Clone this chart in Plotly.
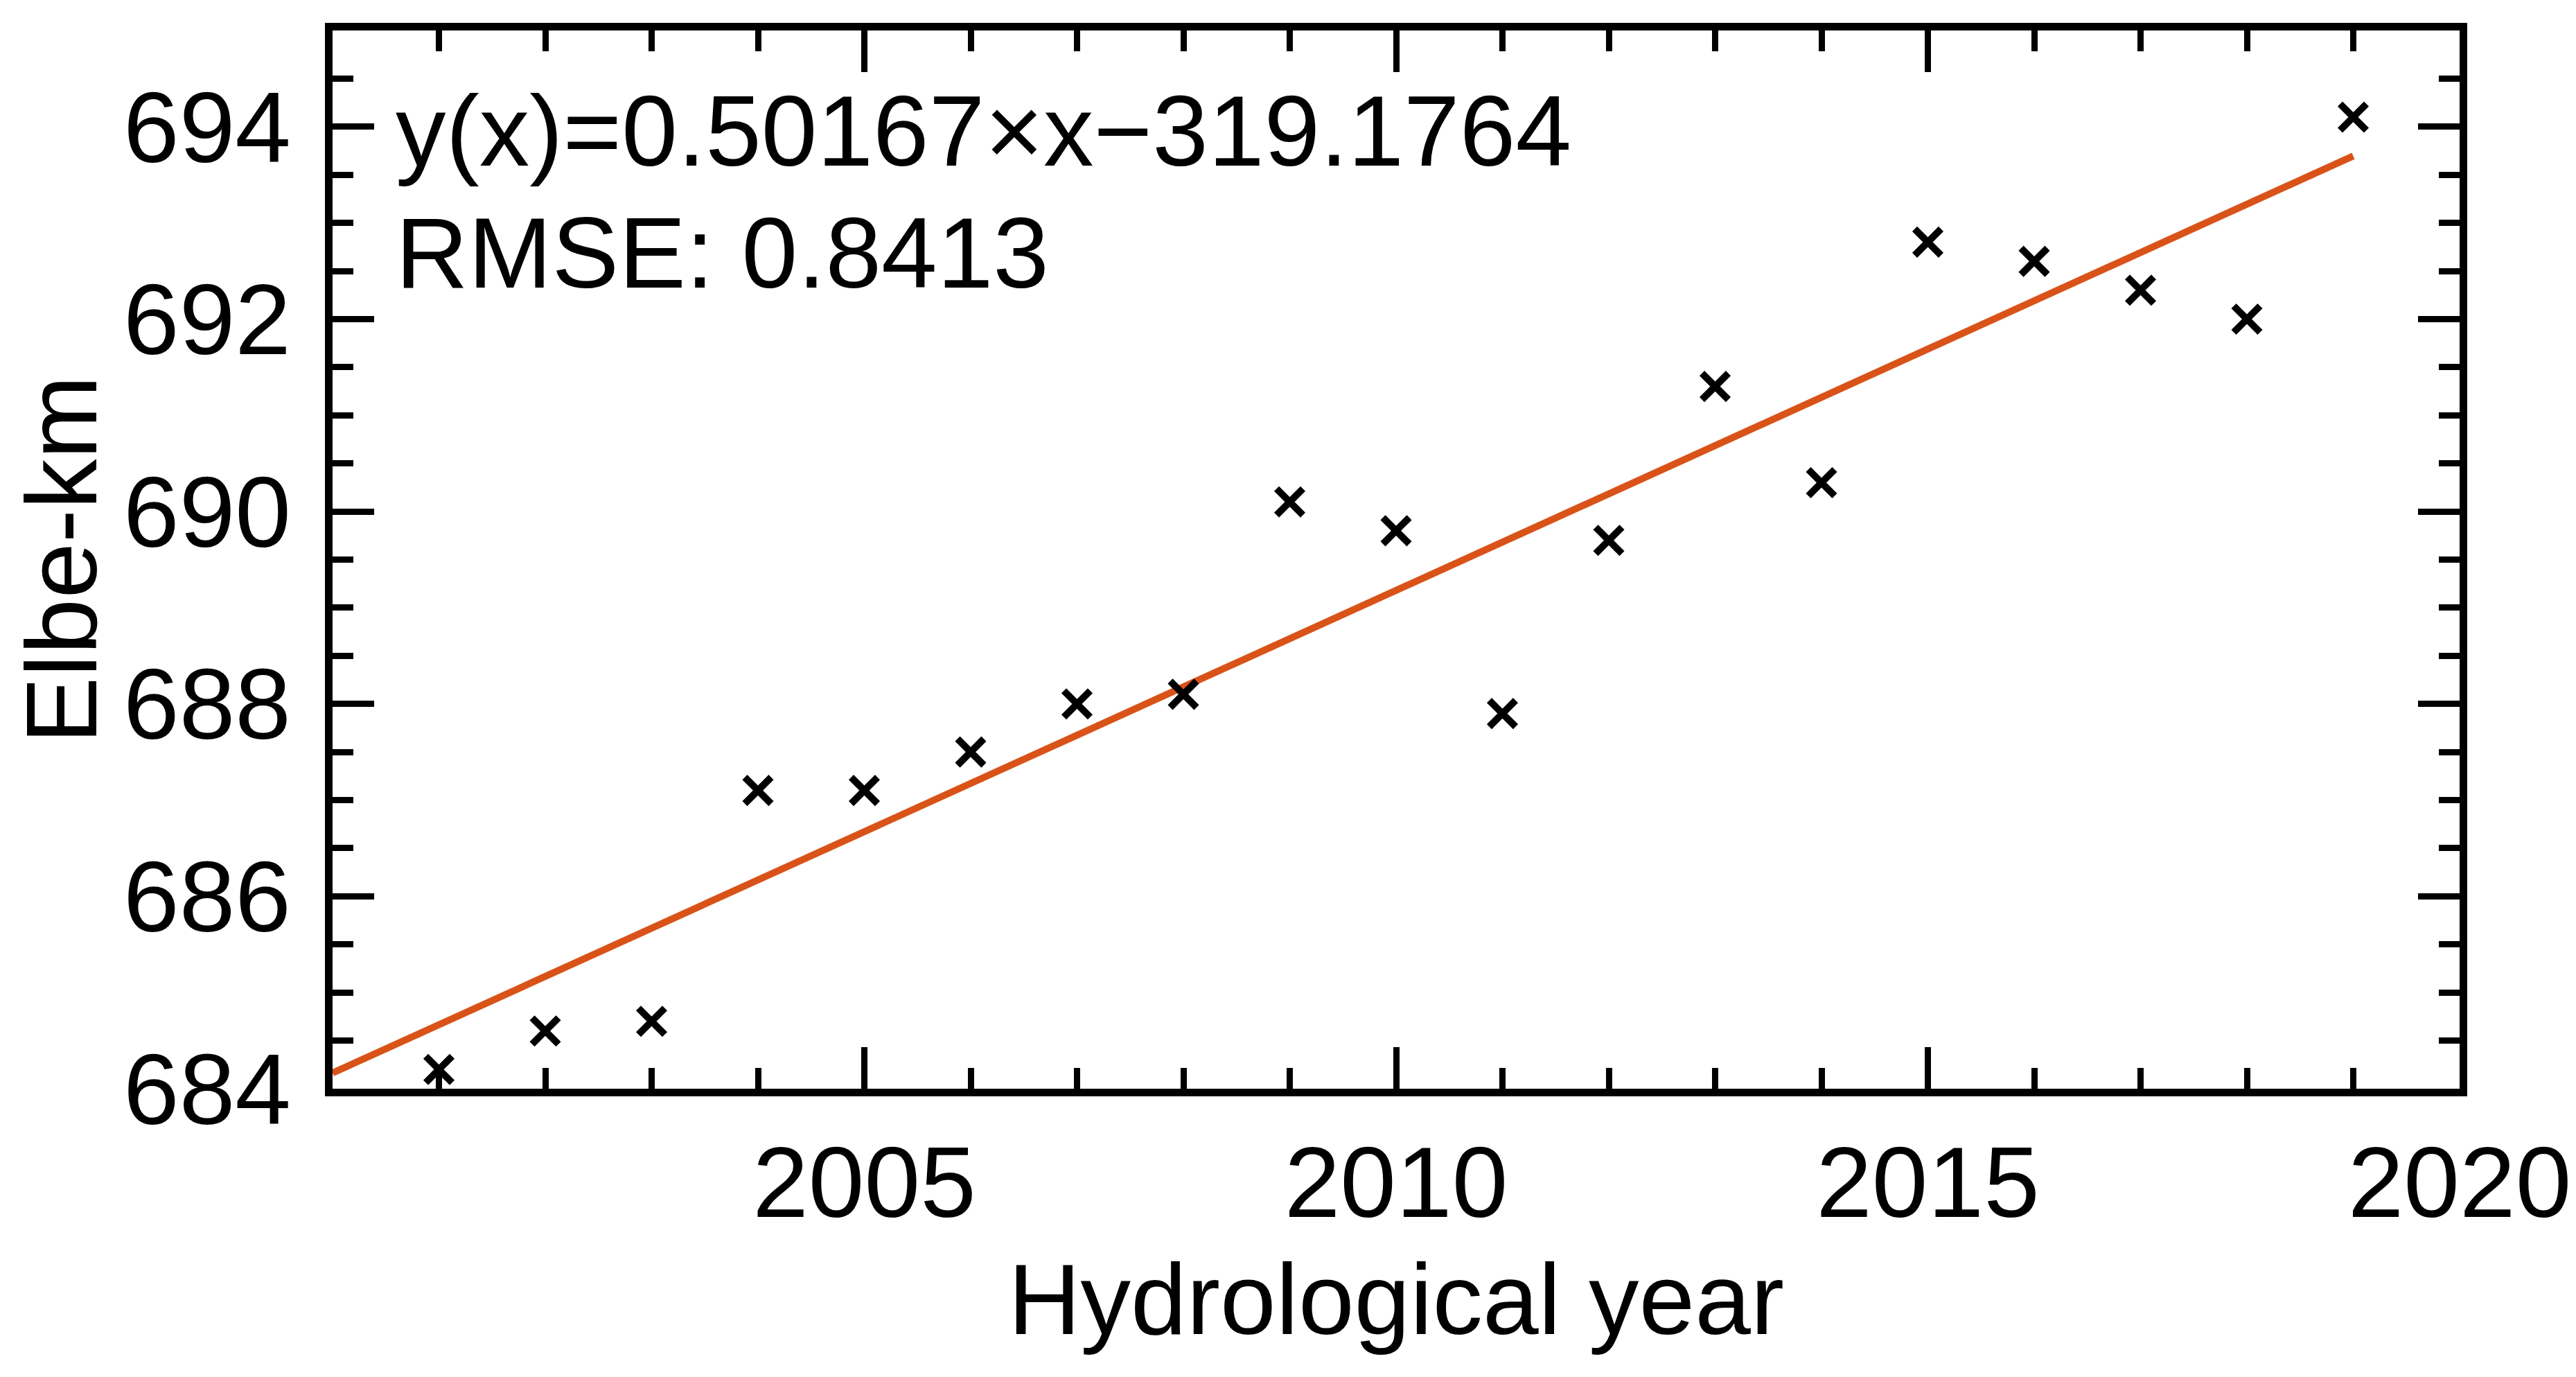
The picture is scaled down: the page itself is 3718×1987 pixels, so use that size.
import plotly.graph_objects as go

# Data
years = [2001, 2002, 2003, 2004, 2005, 2006, 2007, 2008, 2009, 2010,
         2011, 2012, 2013, 2014, 2015, 2016, 2017, 2018, 2019]
elbe_km = [684.2, 684.6, 684.7, 687.1, 687.1, 687.5, 688.0, 688.1, 690.1, 689.8,
           687.9, 689.7, 691.3, 690.3, 692.8, 692.6, 692.3, 692.0, 694.1]

slope = 0.50167
intercept = -319.1764
fit_x = [2000, 2019]
fit_y = [slope * x + intercept for x in fit_x]

x_tickvals = [2005, 2010, 2015, 2020]
y_tickvals = [684, 686, 688, 690, 692, 694]

eq_text = "y(x)=0.50167×x−319.1764"
rmse_text = "RMSE: 0.8413"

FONT = "Liberation Sans, Arial, sans-serif"
FS = 145

fig = go.Figure()
fig.add_trace(go.Scatter(
    x=fit_x, y=fit_y, mode="lines",
    line=dict(color="#D95319", width=10),
    showlegend=False,
))
fig.add_trace(go.Scatter(
    x=years, y=elbe_km, mode="markers",
    marker=dict(symbol="x-thin-open", size=38, color="black",
                line=dict(color="black", width=10)),
    showlegend=False,
))

axis_common = dict(
    showline=True, linecolor="black", linewidth=11, mirror="ticks",
    ticks="inside", tickcolor="black", tickwidth=9, ticklen=60,
    showgrid=False, zeroline=False,
    tickfont=dict(family=FONT, size=FS, color="black"),
)

fig.update_xaxes(
    range=[2000, 2020], tickmode="array", tickvals=x_tickvals,
    ticklabelstandoff=0,
    title=dict(text="Hydrological year", font=dict(family=FONT, size=FS, color="black"), standoff=42),
    minor=dict(ticks="inside", dtick=1, tick0=2000, ticklen=30, tickwidth=9, tickcolor="black"),
    **axis_common,
)
fig.update_yaxes(
    range=[684, 695], tickmode="array", tickvals=y_tickvals,
    ticklabelstandoff=20,
    title=dict(text="Elbe-km", font=dict(family=FONT, size=FS, color="black"), standoff=14),
    minor=dict(ticks="inside", dtick=0.5, tick0=684, ticklen=30, tickwidth=9, tickcolor="black"),
    **axis_common,
)

fig.add_annotation(xref="paper", yref="paper", x=0.029, y=0.905, xanchor="left", yanchor="middle",
                   text=eq_text, showarrow=False, font=dict(family=FONT, size=FS, color="black"))
fig.add_annotation(xref="paper", yref="paper", x=0.029, y=0.79, xanchor="left", yanchor="middle",
                   text=rmse_text, showarrow=False, font=dict(family=FONT, size=FS, color="black"))

fig.update_layout(
    width=3718, height=1987,
    margin=dict(l=472, r=176, t=36, b=424),
    paper_bgcolor="white", plot_bgcolor="white",
    font=dict(family=FONT, size=FS, color="black"),
)

fig.write_html("out.html")
